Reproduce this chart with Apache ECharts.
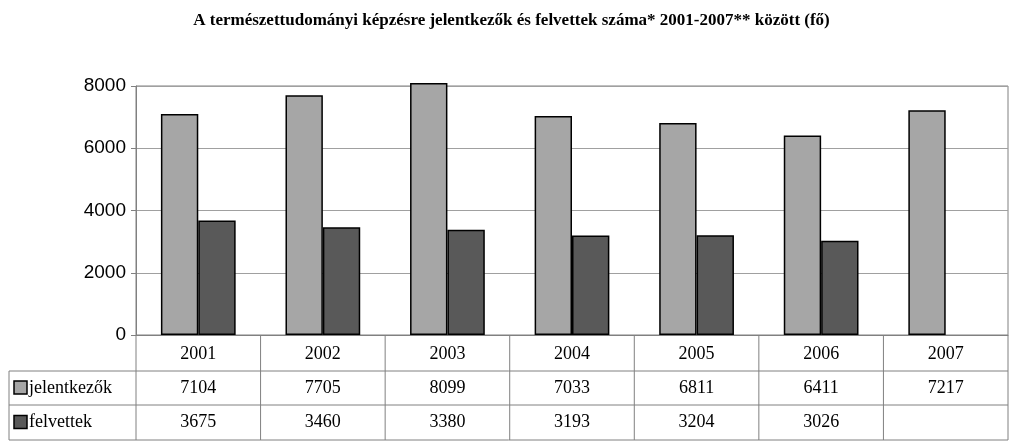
<!DOCTYPE html><html><head><meta charset="utf-8"><script src="https://cdn.jsdelivr.net/npm/echarts@6/dist/echarts.min.js"></script>
<style>html,body{margin:0;background:#fff}#c{width:1023px;height:444px}</style></head><body><div id="c"></div><script>
const years=['2001','2002','2003','2004','2005','2006','2007'];
const jelentkezok=[7104,7705,8099,7033,6811,6411,7217];
const felvettek=[3675,3460,3380,3193,3204,3026,null];
const seriesNames=['jelentkezők','felvettek'];
const colors=['#a6a6a6','#595959'];
const L=136,R=1008,T=86,B=335,tableL=9,rowY=[335,371,405,440];
const chart=echarts.init(document.getElementById('c'));
const serif='"Liberation Serif","DejaVu Serif",serif';
const g=[];
const cw=(R-L)/years.length;
const line=(x1,y1,x2,y2)=>g.push({type:'line',shape:{x1,y1,x2,y2},style:{stroke:'#808080',lineWidth:1}});
line(tableL,rowY[1],R,rowY[1]);line(tableL,rowY[2],R,rowY[2]);line(tableL,rowY[3],R,rowY[3]);
line(tableL,rowY[1],tableL,rowY[3]);line(L,rowY[0],L,rowY[3]);
for(let i=1;i<=years.length;i++)line(L+i*cw,rowY[0],L+i*cw,rowY[3]);
const rows=[jelentkezok,felvettek];
rows.forEach((arr,r)=>{
 const yc=(rowY[r+1]+rowY[r+2])/2;
 g.push({type:'rect',shape:{x:14,y:yc-7,width:13,height:13},style:{fill:colors[r],stroke:'#000',lineWidth:1.5}});
 g.push({type:'text',x:29,y:yc,style:{text:seriesNames[r],font:'18px '+serif,fill:'#000',verticalAlign:'middle'}});
 arr.forEach((v,i)=>{if(v!=null)g.push({type:'text',x:L+(i+0.5)*cw,y:yc,style:{text:String(v),font:'18px '+serif,fill:'#000',align:'center',verticalAlign:'middle'}});});
});
chart.setOption({
 animation:false,
 title:{text:'A természettudományi képzésre jelentkezők és felvettek száma* 2001-2007** között (fő)',left:'center',top:7,textStyle:{fontFamily:serif,fontWeight:'bold',fontSize:17,color:'#000'}},
 grid:{left:L,right:1023-R,top:T,bottom:444-B},
 xAxis:{type:'category',data:years,axisTick:{show:false},axisLine:{lineStyle:{color:'#808080'}},
  axisLabel:{fontFamily:serif,fontSize:18,color:'#000',margin:10},splitLine:{show:false}},
 yAxis:{type:'value',min:0,max:8000,interval:2000,axisLine:{show:true,lineStyle:{color:'#808080'}},axisTick:{show:true,length:5,lineStyle:{color:'#808080'}},
  axisLabel:{fontFamily:'"Liberation Sans",Arial,sans-serif',fontSize:19,color:'#000',margin:10,formatter:v=>String(v)},splitLine:{lineStyle:{color:'#a0a0a0'}}},
 series:[
  {name:seriesNames[0],type:'bar',clip:false,data:jelentkezok,barGap:'0%',barCategoryGap:'40%',itemStyle:{color:colors[0],borderColor:'#000',borderWidth:1.5}},
  {name:seriesNames[1],type:'bar',clip:false,data:felvettek,itemStyle:{color:colors[1],borderColor:'#000',borderWidth:1.5}}
 ],
 graphic:g.concat([{type:'rect',z:-1,shape:{x:L,y:T,width:R-L,height:B-T},style:{fill:'none',stroke:'#808080',lineWidth:1},silent:true}])
});
</script></body></html>
